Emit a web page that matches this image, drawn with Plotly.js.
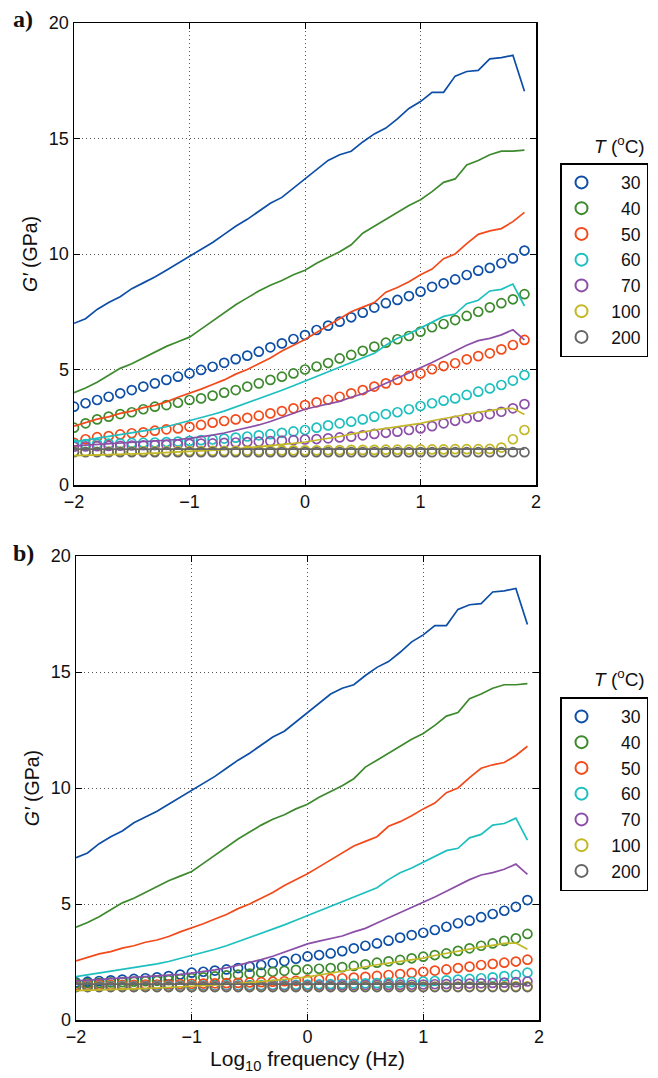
<!DOCTYPE html>
<html><head><meta charset="utf-8">
<script src="https://cdn.plot.ly/plotly-3.0.1.min.js"></script>
<style>html,body{margin:0;padding:0;background:#fff}</style>
</head><body><div id="chart" style="width:658px;height:1078px"></div>
<script>
// log10 frequency (Hz)
const logFreq = [-2,-1.9,-1.8,-1.7,-1.6,-1.5,-1.4,-1.3,-1.2,-1.1,-1.0,-0.9,-0.8,-0.7,-0.6,-0.5,-0.4,-0.3,-0.2,-0.1,0,0.1,0.2,0.3,0.4,0.5,0.6,0.7,0.8,0.9,1.0,1.1,1.2,1.3,1.4,1.5,1.6,1.7,1.8,1.9];
const temps = ['30','40','50','60','70','100','200'];
const colors = ['#0d4ea6','#3d8a2e','#f24a1a','#1dbfbf','#8b4fa8','#c2b824','#666666'];

// model lines (same in both panels)
const line30  = [7.0,7.2,7.6,7.9,8.15,8.5,8.75,9.0,9.3,9.6,9.9,10.2,10.5,10.85,11.2,11.5,11.85,12.2,12.45,12.85,13.25,13.65,14.05,14.3,14.45,14.85,15.2,15.45,15.85,16.3,16.6,17.0,17.0,17.7,17.9,17.95,18.45,18.5,18.6,17.05];
const line40  = [4.0,4.2,4.45,4.75,5.05,5.25,5.5,5.75,6.0,6.2,6.4,6.75,7.1,7.45,7.8,8.1,8.4,8.65,8.85,9.1,9.3,9.6,9.85,10.1,10.4,10.9,11.2,11.5,11.8,12.1,12.35,12.7,13.1,13.25,13.85,14.05,14.3,14.45,14.45,14.5];
const line50  = [2.55,2.7,2.85,2.95,3.1,3.2,3.35,3.45,3.6,3.8,3.97,4.15,4.35,4.55,4.8,5.0,5.25,5.5,5.8,6.05,6.3,6.6,6.9,7.2,7.5,7.7,7.9,8.35,8.55,8.8,9.1,9.35,9.8,10.0,10.45,10.85,11.0,11.1,11.4,11.8];
const line60  = [1.87,1.95,2.02,2.09,2.16,2.24,2.33,2.42,2.52,2.65,2.8,2.9,3.05,3.2,3.38,3.55,3.72,3.9,4.1,4.3,4.5,4.7,4.9,5.12,5.32,5.5,5.7,6.05,6.35,6.55,6.8,7.05,7.3,7.4,7.85,8.0,8.4,8.47,8.7,7.75];
const line70  = [1.69,1.72,1.75,1.78,1.8,1.83,1.86,1.9,1.93,1.97,2.02,2.08,2.16,2.25,2.36,2.48,2.6,2.75,2.92,3.1,3.28,3.4,3.5,3.62,3.8,3.95,4.18,4.4,4.62,4.85,5.05,5.3,5.55,5.8,6.05,6.25,6.35,6.5,6.72,6.28];
const line100 = [1.27,1.28,1.3,1.32,1.33,1.35,1.36,1.38,1.4,1.42,1.44,1.47,1.5,1.53,1.57,1.61,1.65,1.7,1.75,1.8,1.86,1.93,2.02,2.1,2.2,2.3,2.38,2.45,2.52,2.6,2.67,2.78,2.88,2.98,3.08,3.15,3.22,3.3,3.32,3.05];
const line200 = [1.55,1.55,1.55,1.55,1.55,1.55,1.55,1.55,1.55,1.55,1.55,1.55,1.55,1.55,1.55,1.55,1.55,1.55,1.55,1.55,1.55,1.55,1.55,1.55,1.55,1.55,1.55,1.55,1.55,1.55,1.55,1.55,1.55,1.55,1.55,1.55,1.55,1.55,1.55,1.55];

// measured points, panel a
const a30  = [3.39,3.54,3.68,3.82,3.97,4.11,4.26,4.4,4.55,4.69,4.83,4.98,5.12,5.29,5.45,5.6,5.77,5.96,6.13,6.32,6.49,6.71,6.9,7.07,7.26,7.46,7.68,7.87,8.01,8.18,8.37,8.58,8.73,8.9,9.09,9.28,9.4,9.6,9.81,10.15];
const a40  = [2.48,2.67,2.84,2.96,3.07,3.15,3.28,3.39,3.46,3.56,3.68,3.75,3.87,4.0,4.11,4.26,4.4,4.55,4.69,4.83,5.0,5.13,5.28,5.48,5.63,5.81,5.99,6.16,6.31,6.45,6.64,6.83,6.97,7.14,7.32,7.5,7.69,7.87,8.04,8.26];
const a50  = [1.83,1.98,2.07,2.12,2.19,2.24,2.28,2.35,2.41,2.45,2.52,2.6,2.7,2.77,2.84,2.91,3.0,3.1,3.2,3.32,3.46,3.58,3.69,3.82,3.97,4.11,4.26,4.4,4.55,4.72,4.83,5.01,5.15,5.27,5.44,5.58,5.7,5.87,6.06,6.28];
const a60  = [1.76,1.77,1.78,1.79,1.8,1.82,1.83,1.84,1.86,1.88,1.91,1.94,1.97,2.01,2.05,2.1,2.15,2.2,2.26,2.32,2.38,2.48,2.58,2.67,2.74,2.84,2.96,3.07,3.15,3.28,3.42,3.54,3.65,3.75,3.9,4.04,4.18,4.33,4.52,4.76];
const a70  = [1.66,1.67,1.68,1.69,1.7,1.71,1.72,1.73,1.74,1.76,1.78,1.79,1.8,1.82,1.84,1.86,1.88,1.9,1.92,1.94,1.97,1.99,2.02,2.06,2.09,2.15,2.21,2.26,2.31,2.38,2.45,2.55,2.67,2.78,2.89,2.96,3.07,3.17,3.32,3.5];
const a100 = [1.44,1.44,1.44,1.45,1.45,1.45,1.46,1.46,1.46,1.47,1.47,1.47,1.48,1.48,1.48,1.49,1.49,1.49,1.5,1.5,1.5,1.5,1.51,1.51,1.52,1.52,1.52,1.53,1.53,1.53,1.54,1.54,1.54,1.55,1.55,1.55,1.56,1.62,1.98,2.38];
const a200 = [1.42,1.42,1.42,1.42,1.42,1.42,1.42,1.42,1.42,1.42,1.42,1.42,1.42,1.42,1.42,1.42,1.42,1.42,1.42,1.42,1.42,1.42,1.42,1.42,1.42,1.42,1.42,1.42,1.42,1.42,1.42,1.42,1.42,1.42,1.42,1.42,1.42,1.42,1.42,1.42];

// measured points, panel b
const b30  = [1.62,1.65,1.68,1.71,1.74,1.77,1.8,1.84,1.89,1.96,2.04,2.08,2.13,2.18,2.24,2.3,2.37,2.45,2.54,2.64,2.74,2.8,2.87,2.97,3.09,3.2,3.3,3.42,3.55,3.66,3.76,3.88,4.02,4.17,4.28,4.43,4.57,4.71,4.88,5.17];
const b40  = [1.58,1.59,1.6,1.62,1.63,1.65,1.67,1.69,1.72,1.76,1.8,1.84,1.88,1.92,1.96,2.0,2.04,2.08,2.12,2.16,2.18,2.21,2.24,2.28,2.33,2.4,2.47,2.53,2.59,2.66,2.73,2.8,2.87,2.98,3.09,3.2,3.3,3.41,3.52,3.71];
const b50  = [1.5,1.5,1.51,1.51,1.52,1.52,1.53,1.53,1.54,1.55,1.56,1.57,1.58,1.59,1.6,1.62,1.63,1.65,1.67,1.69,1.72,1.74,1.77,1.8,1.83,1.86,1.9,1.94,1.98,2.03,2.08,2.13,2.18,2.24,2.3,2.37,2.42,2.47,2.52,2.6];
const b60  = [1.45,1.45,1.45,1.46,1.46,1.46,1.46,1.47,1.47,1.47,1.48,1.48,1.48,1.49,1.49,1.5,1.5,1.51,1.51,1.52,1.53,1.54,1.55,1.56,1.57,1.58,1.59,1.61,1.62,1.64,1.66,1.68,1.71,1.74,1.77,1.8,1.84,1.89,1.95,2.04];
const b70  = [1.44,1.44,1.44,1.44,1.44,1.45,1.45,1.45,1.45,1.45,1.45,1.46,1.46,1.46,1.46,1.46,1.46,1.47,1.47,1.47,1.47,1.48,1.48,1.49,1.49,1.5,1.5,1.51,1.51,1.52,1.53,1.54,1.55,1.56,1.57,1.58,1.6,1.61,1.63,1.66];
const b100 = [1.43,1.43,1.43,1.43,1.43,1.43,1.43,1.43,1.43,1.43,1.43,1.43,1.43,1.43,1.43,1.43,1.43,1.43,1.43,1.43,1.43,1.43,1.43,1.43,1.44,1.44,1.44,1.44,1.44,1.44,1.44,1.44,1.44,1.44,1.44,1.44,1.44,1.45,1.45,1.45];
const b200 = [1.42,1.42,1.42,1.42,1.42,1.42,1.42,1.42,1.42,1.42,1.42,1.42,1.42,1.42,1.42,1.42,1.42,1.42,1.42,1.42,1.42,1.42,1.42,1.42,1.42,1.42,1.42,1.42,1.42,1.42,1.42,1.42,1.42,1.42,1.42,1.42,1.42,1.42,1.42,1.42];

const lines = [line30,line40,line50,line60,line70,line100,line200];
const ptsA = [a30,a40,a50,a60,a70,a100,a200];
const ptsB = [b30,b40,b50,b60,b70,b100,b200];

const FS = '\u2007';
function legName(t){ return FS.repeat(4 - t.length) + t; }

const traces = [];
function panel(pts, xa, ya, leg, tag){
  pts.forEach((p,i)=>{
    traces.push({x:logFreq, y:p, xaxis:xa, yaxis:ya, type:'scatter', mode:'markers',
      name:legName(temps[i]), legend:leg, showlegend:true,
      marker:{symbol:'circle-open', size:9, color:colors[i], line:{width:1.7, color:colors[i]}}});
  });
  lines.forEach((l,i)=>{
    traces.push({x:logFreq, y:l, xaxis:xa, yaxis:ya, type:'scatter', mode:'lines',
      name:'model '+temps[i]+' '+tag, showlegend:false, line:{color:colors[i], width:1.7}});
  });
}
panel(ptsA,'x','y','legend','a');
panel(ptsB,'x2','y2','legend2','b');

const FAM = '"Liberation Sans", Arial, Helvetica, sans-serif';
const font = {family:FAM, size:18, color:'#111'};
const titleFont = {family:FAM, size:19.5, color:'#111'};
const legFont = {family:FAM, size:17.5, color:'#111'};
function xax(dom, anchor){
  return {domain:dom, anchor:anchor, range:[-2,2], tick0:-2, dtick:1, showline:true, linecolor:'#000', linewidth:1.5,
    mirror:'ticks', ticks:'inside', ticklen:6, tickcolor:'#000', tickwidth:1, showgrid:true, gridcolor:'#555',
    griddash:'1px,3px', gridwidth:1, zeroline:false, tickfont:font, fixedrange:true};
}
function yax(dom, anchor){
  return {domain:dom, anchor:anchor, range:[0,20], tick0:0, dtick:5, showline:true, linecolor:'#000', linewidth:1.5,
    mirror:'ticks', ticks:'inside', ticklen:6, tickcolor:'#000', tickwidth:1, showgrid:true, gridcolor:'#555',
    griddash:'1px,3px', gridwidth:1, zeroline:false, tickfont:font, fixedrange:true,
    title:{text:'<i>G′</i> (GPa)', font:titleFont, standoff:6}};
}
const W=658, H=1078;
const legendCommon = {xanchor:'left', yanchor:'top', bordercolor:'#000', borderwidth:1.5, bgcolor:'#fff',
  font:legFont, itemsizing:'constant'};
const layout = {
  width:W, height:H, margin:{l:0,r:0,t:0,b:0}, paper_bgcolor:'#fff', plot_bgcolor:'#fff', font:font,
  xaxis: xax([74/W, 536/W],'y'),
  yaxis: yax([1-485/H, 1-23/H],'x'),
  xaxis2: Object.assign(xax([76/W, 539/W],'y2'), {title:{text:'Log<sub>10</sub> frequency (Hz)', font:{family:FAM, size:21, color:'#111'}, standoff:4}}),
  yaxis2: yax([1-1020/H, 1-556/H],'x2'),
  legend: Object.assign({x:560/W, y:1-163/H}, legendCommon),
  legend2: Object.assign({x:560/W, y:1-697/H}, legendCommon),
  annotations:[
    {text:'<b>a)</b>', xref:'paper', yref:'paper', x:11/W, y:1-19/H, xanchor:'left', yanchor:'middle', showarrow:false,
      font:{family:'"Liberation Serif", "Times New Roman", serif', size:24, color:'#111'}},
    {text:'<b>b)</b>', xref:'paper', yref:'paper', x:11/W, y:1-553/H, xanchor:'left', yanchor:'middle', showarrow:false,
      font:{family:'"Liberation Serif", "Times New Roman", serif', size:24, color:'#111'}},
    {text:'<i>T</i> (<sup>o</sup>C)', xref:'paper', yref:'paper', x:647/W, y:1-145/H, xanchor:'right', yanchor:'middle', showarrow:false, font:{family:FAM, size:19, color:'#111'}},
    {text:'<i>T</i> (<sup>o</sup>C)', xref:'paper', yref:'paper', x:647/W, y:1-678/H, xanchor:'right', yanchor:'middle', showarrow:false, font:{family:FAM, size:19, color:'#111'}}
  ]
};
Plotly.newPlot('chart', traces, layout, {displayModeBar:false, staticPlot:true});
</script>
</body></html>
